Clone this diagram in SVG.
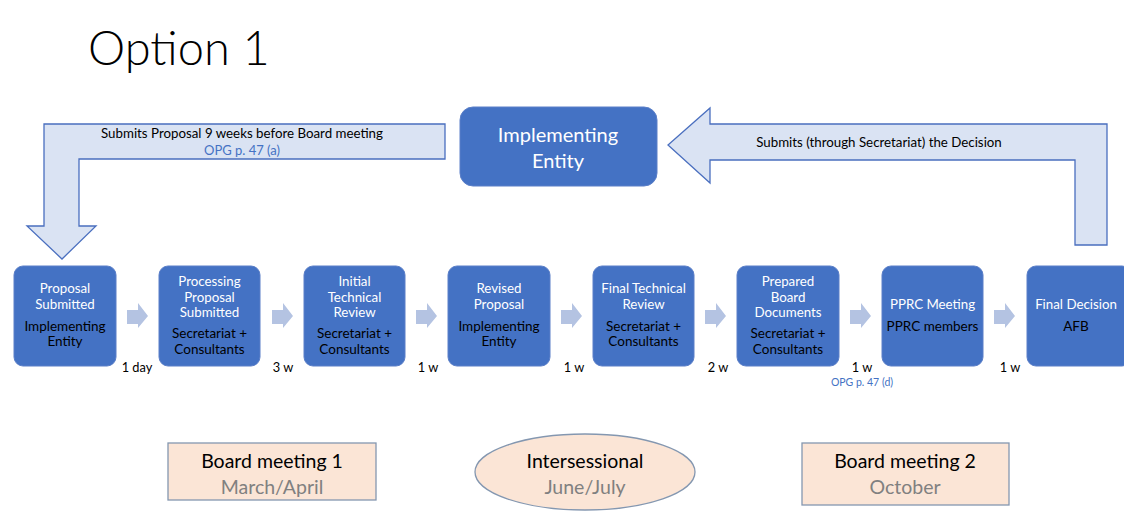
<svg xmlns="http://www.w3.org/2000/svg" width="1124" height="522" viewBox="0 0 1124 522">
<style>
text{font-family:Lato,"Open Sans","Liberation Sans",sans-serif;text-anchor:middle}
.step{fill:#4472C4;stroke:#5B7FC8;stroke-width:1}
.w{fill:#fff;font-size:13.3px}
.k{fill:#000;font-size:13.5px}
.lbl{fill:#000;font-size:12.8px}
.opg{fill:#4472C4;font-size:13px}
.big{fill:#DAE3F3;stroke:#4A6FBF;stroke-width:1.3}
.sm{fill:#B4C3E2}
.bm{fill:#FBE5D6;stroke:#8497B0;stroke-width:1.3}
.bt{fill:#000;font-size:19.5px}
.bg{fill:#808080;font-size:19.5px}
</style>
<rect width="1124" height="522" fill="#fff"/>
<text x="88" y="65" style="font-size:47px;text-anchor:start;font-weight:300" fill="#000">Option 1</text>

<g id="connectors">
  <path class="big" d="M445,124 L44,124 L44,226 L27,226 L62,259 L96,226 L79,226 L79,159 L445,159 Z"/>
  <path class="big" d="M1107,245 L1107,124 L710,124 L710,108 L668,145 L710,183 L710,160 L1075,160 L1075,245 Z"/>
  <path class="sm" d="M127,310 L138,310 L138,303 L148,316 L138,328 L138,324 L127,324 Z"/>
  <path class="sm" d="M272,310 L283,310 L283,303 L293,316 L283,328 L283,324 L272,324 Z"/>
  <path class="sm" d="M416,310 L427,310 L427,303 L437,316 L427,328 L427,324 L416,324 Z"/>
  <path class="sm" d="M561,310 L572,310 L572,303 L582,316 L572,328 L572,324 L561,324 Z"/>
  <path class="sm" d="M705,310 L716,310 L716,303 L726,316 L716,328 L716,324 L705,324 Z"/>
  <path class="sm" d="M850,310 L861,310 L861,303 L871,316 L861,328 L861,324 L850,324 Z"/>
  <path class="sm" d="M994,310 L1005,310 L1005,303 L1015,316 L1005,328 L1005,324 L994,324 Z"/>
  <text x="242" y="138" style="font-size:13.3px" fill="#000">Submits Proposal 9 weeks before Board meeting</text>
  <text x="242" y="155" class="opg">OPG p. 47 (a)</text>
  <text x="879" y="147" style="font-size:13.3px" fill="#000">Submits (through Secretariat) the Decision</text>
  <text x="137" y="372" class="lbl">1 day</text>
  <text x="283" y="372" class="lbl">3 w</text>
  <text x="428" y="372" class="lbl">1 w</text>
  <text x="574" y="372" class="lbl">1 w</text>
  <text x="718" y="372" class="lbl">2 w</text>
  <text x="862" y="372" class="lbl">1 w</text>
  <text x="862" y="386" class="opg" style="font-size:10.5px">OPG p. 47 (d)</text>
  <text x="1010" y="372" class="lbl">1 w</text>
</g>

<g id="implementing-entity">
  <rect x="460" y="107" width="197" height="79" rx="13" class="step"/>
  <text x="558" y="142" class="w" style="font-size:20px">Implementing</text>
  <text x="558" y="168" class="w" style="font-size:20px">Entity</text>
</g>

<g id="step1">
  <rect x="14" y="266" width="102" height="100" rx="9" class="step"/>
  <text x="65" y="293" class="w">Proposal</text>
  <text x="65" y="309" class="w">Submitted</text>
  <text x="65" y="331" class="k">Implementing</text>
  <text x="65" y="346" class="k">Entity</text>
</g>
<g id="step2">
  <rect x="159" y="266" width="101" height="100" rx="9" class="step"/>
  <text x="209.5" y="286" class="w">Processing</text>
  <text x="209.5" y="302" class="w">Proposal</text>
  <text x="209.5" y="317" class="w">Submitted</text>
  <text x="209.5" y="338" class="k">Secretariat +</text>
  <text x="209.5" y="354" class="k">Consultants</text>
</g>
<g id="step3">
  <rect x="304" y="266" width="101" height="100" rx="9" class="step"/>
  <text x="354.5" y="286" class="w">Initial</text>
  <text x="354.5" y="302" class="w">Technical</text>
  <text x="354.5" y="317" class="w">Review</text>
  <text x="354.5" y="338" class="k">Secretariat +</text>
  <text x="354.5" y="354" class="k">Consultants</text>
</g>
<g id="step4">
  <rect x="448" y="266" width="102" height="100" rx="9" class="step"/>
  <text x="499" y="293" class="w">Revised</text>
  <text x="499" y="309" class="w">Proposal</text>
  <text x="499" y="331" class="k">Implementing</text>
  <text x="499" y="346" class="k">Entity</text>
</g>
<g id="step5">
  <rect x="593" y="266" width="101" height="100" rx="9" class="step"/>
  <text x="643.5" y="293" class="w">Final Technical</text>
  <text x="643.5" y="309" class="w">Review</text>
  <text x="643.5" y="331" class="k">Secretariat +</text>
  <text x="643.5" y="346" class="k">Consultants</text>
</g>
<g id="step6">
  <rect x="737" y="266" width="102" height="100" rx="9" class="step"/>
  <text x="788" y="286" class="w">Prepared</text>
  <text x="788" y="302" class="w">Board</text>
  <text x="788" y="317" class="w">Documents</text>
  <text x="788" y="338" class="k">Secretariat +</text>
  <text x="788" y="354" class="k">Consultants</text>
</g>
<g id="step7">
  <rect x="882" y="266" width="101" height="100" rx="9" class="step"/>
  <text x="932.5" y="309" class="w">PPRC Meeting</text>
  <text x="932.5" y="331" class="k">PPRC members</text>
</g>
<g id="step8">
  <rect x="1027" y="266" width="104" height="100" rx="9" class="step"/>
  <text x="1076" y="309" class="w">Final Decision</text>
  <text x="1076" y="331" class="k">AFB</text>
</g>

<g id="board-meeting-1">
  <rect x="168" y="443" width="208" height="57" class="bm"/>
  <text x="272" y="468" class="bt">Board meeting 1</text>
  <text x="272" y="494" class="bg">March/April</text>
</g>
<g id="intersessional">
  <ellipse cx="585" cy="472" rx="110" ry="38" class="bm"/>
  <text x="585" y="468" class="bt">Intersessional</text>
  <text x="585" y="494" class="bg">June/July</text>
</g>
<g id="board-meeting-2">
  <rect x="802" y="443" width="207" height="62" class="bm"/>
  <text x="905" y="468" class="bt">Board meeting 2</text>
  <text x="905" y="494" class="bg">October</text>
</g>
</svg>
